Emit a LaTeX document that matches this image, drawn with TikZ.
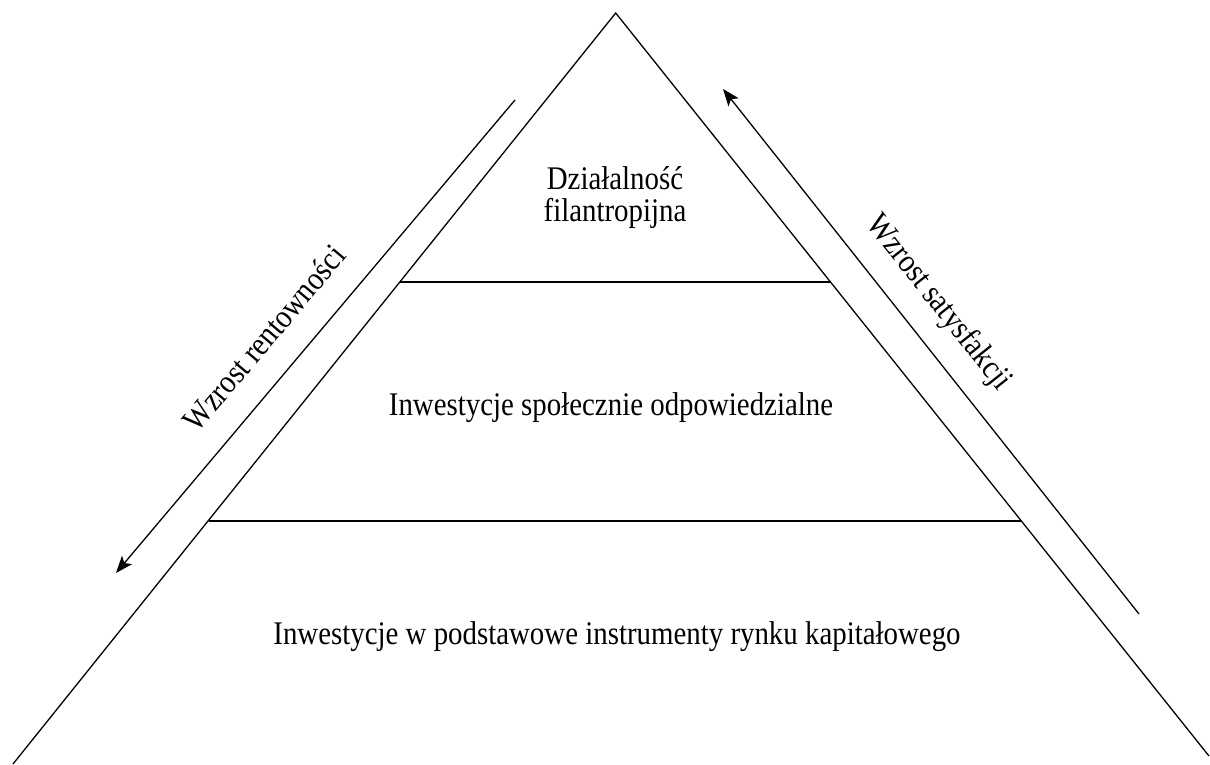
\documentclass[tikz,border=0pt]{standalone}
\usepackage{fontspec}
\usepackage{graphicx}
\setmainfont{Liberation Serif}
\usetikzlibrary{arrows.meta}
\newcommand{\sqz}[1]{\scalebox{0.875}[1]{#1}}
\tikzset{
  edge/.style={line width=1.3pt, black},
  arr/.style={line width=1.3pt, black, -{Stealth[length=17pt,width=13pt,inset=4pt]}},
  lbl/.style={font=\fontsize{33}{32}\selectfont, inner sep=0pt, align=center},
}
\begin{document}
\begin{tikzpicture}[x=1pt,y=-1pt]
\useasboundingbox (0,0) rectangle (1210,765);
\coordinate (apex) at (615.7,13);
\coordinate (bl) at (13,764);
\coordinate (br) at (1209,756);
\coordinate (l1) at (399.8,282);
\coordinate (r1) at (830.5,282);
\coordinate (l2) at (208.5,521);
\coordinate (r2) at (1020.5,521);
\draw[edge] (bl) -- (apex) -- (br);
\draw[edge] (l1) -- (r1);
\draw[edge] (l2) -- (r2);
\coordinate (la1) at (515,100);
\coordinate (la2) at (116,573);
\coordinate (ra1) at (1139,614);
\coordinate (ra2) at (723,89);
\draw[arr] (la1) -- (la2);
\draw[arr] (ra1) -- (ra2);
\node[lbl] (top) at (615,198) {\sqz{Działalność}\\\sqz{filantropijna}};
\node[lbl] (mid) at (611,408) {\sqz{Inwestycje społecznie odpowiedzialne}};
\node[lbl] (bot) at (617,637) {\sqz{Inwestycje w podstawowe instrumenty rynku kapitałowego}};
\node[lbl, rotate=49.85] (rent) at (264,338) {\sqz{Wzrost rentowności}};
\node[lbl, rotate=-51.6] (sat) at (938,303) {\sqz{Wzrost satysfakcji}};
\end{tikzpicture}
\end{document}
